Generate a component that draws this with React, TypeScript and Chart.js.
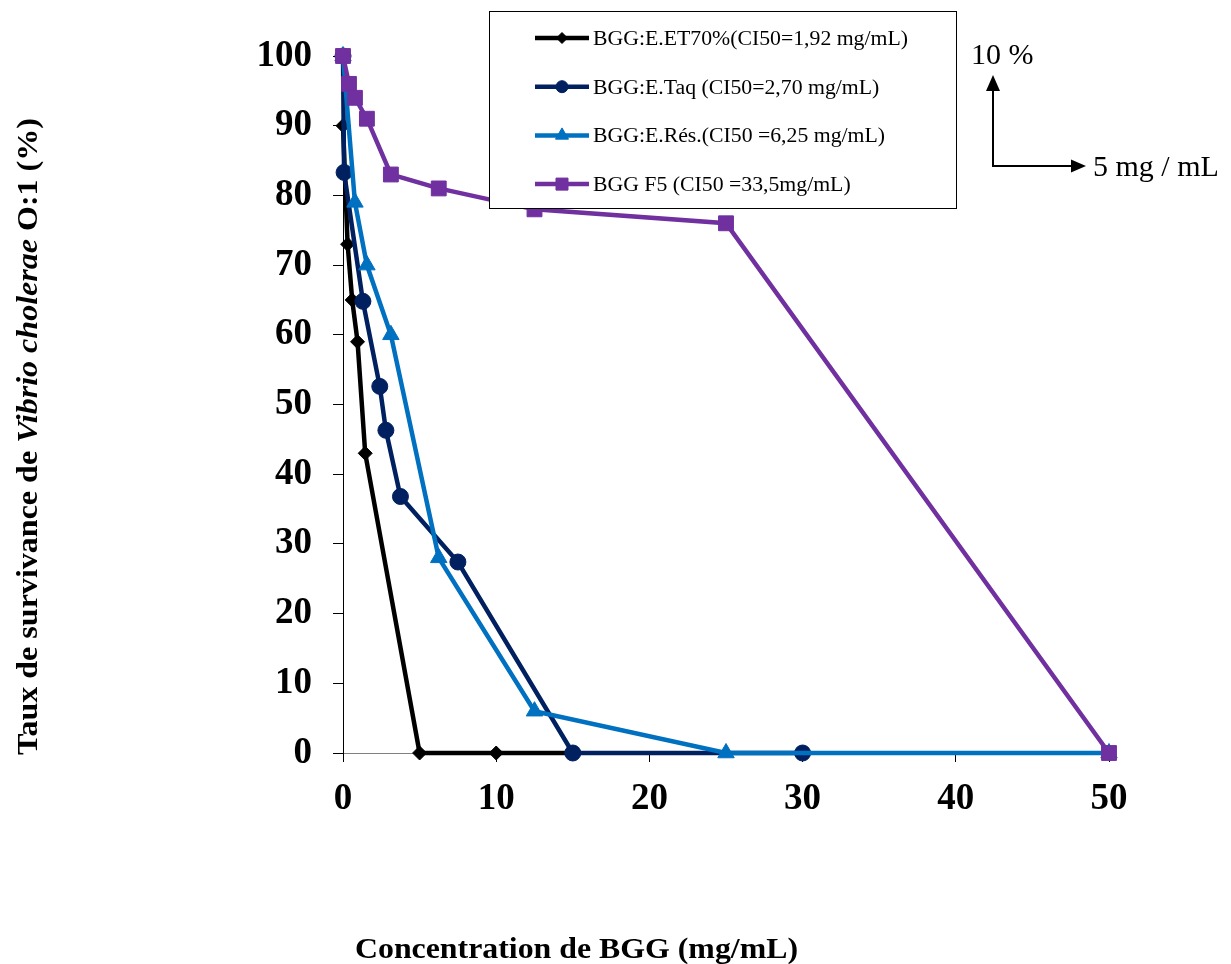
import React, { useEffect, useRef } from 'react';
import { Chart, registerables } from 'chart.js';
import { drawPoint } from 'chart.js/helpers';

Chart.register(...registerables);

// ---- Data ----
const seriesLabels = [
  'BGG:E.ET70%(CI50=1,92 mg/mL)',
  'BGG:E.Taq (CI50=2,70 mg/mL)',
  'BGG:E.Rés.(CI50 =6,25 mg/mL)',
  'BGG F5 (CI50 =33,5mg/mL)',
];
const et70X = [0, 0.3, 0.6, 0.95, 1.45, 5, 10, 15];
const et70Y = [90, 73, 65, 59, 43, 0, 0, 0];
const taqX = [0, 0.07, 1.3, 2.4, 2.8, 3.75, 7.5, 15, 30];
const taqY = [100, 83.3, 64.8, 52.6, 46.3, 36.8, 27.4, 0, 0];
const resX = [0, 0.78, 1.56, 3.125, 6.25, 12.5, 25, 50];
const resY = [100, 79, 70, 60, 28, 6, 0, 0];
const f5X = [0, 0.39, 0.78, 1.56, 3.125, 6.25, 12.5, 25, 50];
const f5Y = [100, 96, 94, 91, 83, 81, 78, 76, 0];

const xTitle = 'Concentration de BGG (mg/mL)';
const yTitleParts = ['Taux de survivance de ', 'Vibrio cholerae', ' O:1 (%)'];
const scaleNoteY = '10 %';
const scaleNoteX = '5 mg / mL';

const SERIF = '"Liberation Serif", "Times New Roman", serif';

const colors = ['#000000', '#002060', '#0070C0', '#7030A0'];
const styles = ['rectRot', 'circle', 'triangle', 'rect'];
const radii = [7, 8, 9.5, 10.5];
const legendRadii = [5.5, 6, 7.5, 8.5];

const pts = (xs: number[], ys: number[]) => xs.map((x, i) => ({ x, y: ys[i] }));

const decorPlugin = {
  id: 'decor',
  afterDraw(chart: any) {
    const ctx: CanvasRenderingContext2D = chart.ctx;
    ctx.save();

    // Legend box
    ctx.fillStyle = '#ffffff';
    ctx.fillRect(489.5, 11.5, 467, 197);
    ctx.strokeStyle = '#000000';
    ctx.lineWidth = 1;
    ctx.strokeRect(489.5, 11.5, 467, 197);

    ctx.font = `20px ${SERIF}`;
    const w0 = ctx.measureText(chart.data.datasets[0].label).width;
    const sx = 315 / w0;
    chart.data.datasets.forEach((ds: any, i: number) => {
      const y = 38 + i * 48.7;
      ctx.strokeStyle = ds.borderColor;
      ctx.lineWidth = 4.5;
      ctx.beginPath();
      ctx.moveTo(535, y);
      ctx.lineTo(589, y);
      ctx.stroke();
      ctx.fillStyle = ds.borderColor;
      ctx.strokeStyle = ds.borderColor;
      ctx.lineWidth = 1;
      drawPoint(ctx, { pointStyle: ds.pointStyle, rotation: 0, radius: legendRadii[i], borderWidth: 1 } as any, 562, y);
      ctx.fillStyle = '#000000';
      ctx.textAlign = 'left';
      ctx.textBaseline = 'alphabetic';
      ctx.save();
      ctx.translate(593, y + 7);
      ctx.scale(sx, 1);
      ctx.fillText(ds.label, 0, 0);
      ctx.restore();
    });

    // Scale indicator
    ctx.strokeStyle = '#000';
    ctx.fillStyle = '#000';
    ctx.lineWidth = 2;
    ctx.beginPath();
    ctx.moveTo(993, 88);
    ctx.lineTo(993, 166);
    ctx.lineTo(1073, 166);
    ctx.stroke();
    ctx.beginPath();
    ctx.moveTo(993, 75);
    ctx.lineTo(986, 91);
    ctx.lineTo(1000, 91);
    ctx.closePath();
    ctx.fill();
    ctx.beginPath();
    ctx.moveTo(1086, 166);
    ctx.lineTo(1071, 159.5);
    ctx.lineTo(1071, 172.5);
    ctx.closePath();
    ctx.fill();
    ctx.font = `30px ${SERIF}`;
    ctx.textAlign = 'left';
    ctx.textBaseline = 'alphabetic';
    ctx.fillText(scaleNoteY, 971, 64);
    ctx.fillText(scaleNoteX, 1093, 176);

    // X title (condensed bold)
    ctx.font = `bold 30px ${SERIF}`;
    const xw = ctx.measureText(xTitle).width;
    ctx.save();
    ctx.translate(355, 958);
    ctx.scale(443 / xw, 1);
    ctx.fillText(xTitle, 0, 0);
    ctx.restore();

    // Y title (mixed italic, condensed)
    const fonts = [`bold 30px ${SERIF}`, `italic bold 30px ${SERIF}`, `bold 30px ${SERIF}`];
    const widths = yTitleParts.map((t, i) => {
      ctx.font = fonts[i];
      return ctx.measureText(t).width;
    });
    const total = widths.reduce((a, b) => a + b, 0);
    ctx.save();
    ctx.translate(37, 436.5);
    ctx.rotate(-Math.PI / 2);
    ctx.scale(637 / total, 1);
    let cx = -total / 2;
    yTitleParts.forEach((t, i) => {
      ctx.font = fonts[i];
      ctx.fillText(t, cx, 0);
      cx += widths[i];
    });
    ctx.restore();

    ctx.restore();
  },
};

export default function App() {
  const ref = useRef<HTMLCanvasElement | null>(null);

  useEffect(() => {
    document.body.style.margin = '0';
    if (!ref.current) return;
    const mk = (i: number, xs: number[], ys: number[], order: number) => ({
      label: seriesLabels[i],
      data: pts(xs, ys),
      borderColor: colors[i],
      backgroundColor: colors[i],
      pointBackgroundColor: colors[i],
      pointBorderColor: colors[i],
      pointStyle: styles[i],
      pointRadius: radii[i],
      pointBorderWidth: 1,
      borderWidth: 4.5,
      tension: 0,
      clip: false,
      order,
    });
    const chart = new Chart(ref.current, {
      type: 'line',
      data: {
        datasets: [
          mk(0, et70X, et70Y, 3),
          mk(1, taqX, taqY, 2),
          mk(2, resX, resY, 1),
          mk(3, f5X, f5Y, 0),
        ] as any,
      },
      options: {
        responsive: false,
        animation: false,
        events: [],
        layout: { padding: { left: 0, right: 122, top: 56, bottom: 0 } },
        plugins: { legend: { display: false }, tooltip: { enabled: false } },
        scales: {
          x: {
            type: 'linear',
            min: 0,
            max: 50,
            afterFit: (s: any) => { s.height = 211; },
            ticks: {
              stepSize: 10,
              color: '#000',
              padding: 15,
              maxRotation: 0,
              font: { family: SERIF, size: 37, weight: 'bold' },
            },
            grid: { drawOnChartArea: false, drawTicks: true, tickLength: 9, tickColor: '#000', color: '#000' },
            border: { display: true, color: '#808080', width: 1 },
          },
          y: {
            type: 'linear',
            min: 0,
            max: 100,
            afterFit: (s: any) => { s.width = 343; },
            ticks: {
              stepSize: 10,
              color: '#000',
              padding: 21,
              font: { family: SERIF, size: 37, weight: 'bold' },
            },
            grid: { drawOnChartArea: false, drawTicks: true, tickLength: 10, tickColor: '#000', color: '#000' },
            border: { display: true, color: '#000', width: 1 },
          },
        },
      },
      plugins: [decorPlugin],
    });
    return () => chart.destroy();
  }, []);

  return (
    <div style={{ width: 1231, height: 964, position: 'relative', background: '#fff' }}>
      <canvas ref={ref} width={1231} height={964} style={{ display: 'block' }} />
    </div>
  );
}
